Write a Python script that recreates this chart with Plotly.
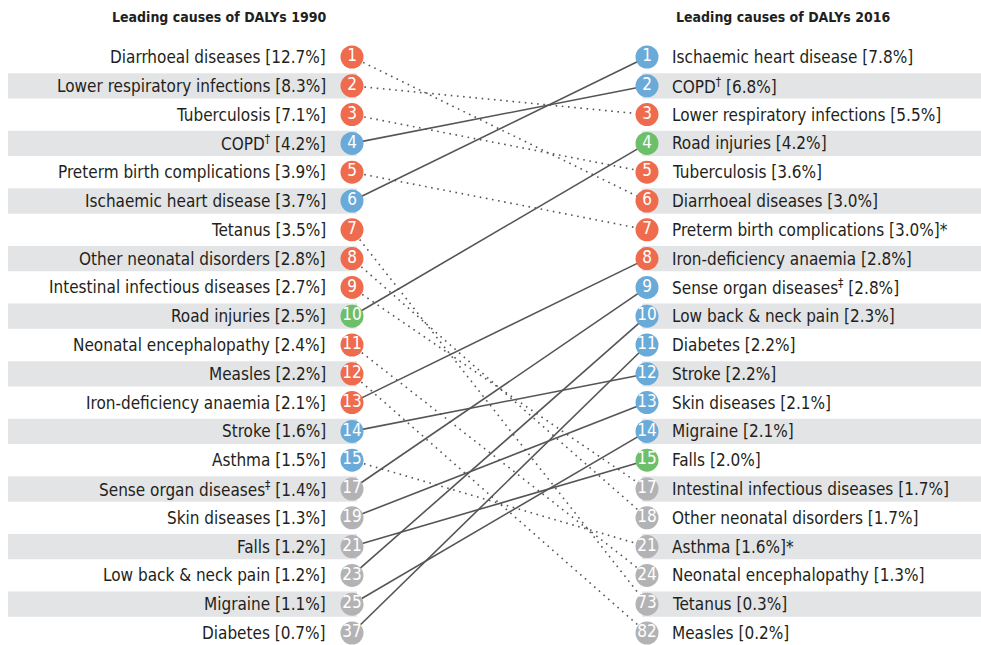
import plotly.graph_objects as go

# ---- data ----
causes_1990 = ["Diarrhoeal diseases", "Lower respiratory infections", "Tuberculosis", "COPD<sup>†</sup>",
               "Preterm birth complications", "Ischaemic heart disease", "Tetanus", "Other neonatal disorders",
               "Intestinal infectious diseases", "Road injuries", "Neonatal encephalopathy", "Measles",
               "Iron-deficiency anaemia", "Stroke", "Asthma", "Sense organ diseases<sup>‡</sup>", "Skin diseases",
               "Falls", "Low back & neck pain", "Migraine", "Diabetes"]
pct_1990 = ["12.7", "8.3", "7.1", "4.2", "3.9", "3.7", "3.5", "2.8", "2.7", "2.5", "2.4", "2.2", "2.1", "1.6",
            "1.5", "1.4", "1.3", "1.2", "1.2", "1.1", "0.7"]
rank_1990 = [1, 2, 3, 4, 5, 6, 7, 8, 9, 10, 11, 12, 13, 14, 15, 17, 19, 21, 23, 25, 37]
group_1990 = ["C", "C", "C", "N", "C", "N", "C", "C", "C", "I", "C", "C", "C", "N", "N",
              "N", "N", "I", "N", "N", "N"]

causes_2016 = ["Ischaemic heart disease", "COPD<sup>†</sup>", "Lower respiratory infections", "Road injuries",
               "Tuberculosis", "Diarrhoeal diseases", "Preterm birth complications", "Iron-deficiency anaemia",
               "Sense organ diseases<sup>‡</sup>", "Low back & neck pain", "Diabetes", "Stroke", "Skin diseases",
               "Migraine", "Falls", "Intestinal infectious diseases", "Other neonatal disorders", "Asthma",
               "Neonatal encephalopathy", "Tetanus", "Measles"]
pct_2016 = ["7.8", "6.8", "5.5", "4.2", "3.6", "3.0", "3.0", "2.8", "2.8", "2.3", "2.2", "2.2", "2.1", "2.1",
            "2.0", "1.7", "1.7", "1.6", "1.3", "0.3", "0.2"]
mark_2016 = ["", "", "", "", "", "", "*", "", "", "", "", "", "", "", "", "", "", "*", "", "", ""]
rank_2016 = [1, 2, 3, 4, 5, 6, 7, 8, 9, 10, 11, 12, 13, 14, 15, 17, 18, 21, 24, 73, 82]
group_2016 = ["N", "N", "C", "I", "C", "C", "C", "C", "N", "N", "N", "N", "N", "N", "I",
              "C", "C", "N", "C", "C", "C"]

title_1990 = "Leading causes of DALYs 1990"
title_2016 = "Leading causes of DALYs 2016"

# ---- styling ----
FONT = "DejaVu Sans Condensed, Liberation Sans Narrow, Arial Narrow, sans-serif"
TXT = "#231f20"
COL = {"C": "#ee6b4d", "N": "#6aaad8", "I": "#6dbf6a", "X": "#b3b3b5"}
BAND = "#e3e4e6"
LINE = "#555555"


def colour(rank, grp):
    return COL[grp] if rank <= 15 else COL["X"]


n = len(causes_1990)
rows = list(range(n))

fig = go.Figure()

# alternating bands
shapes = []
for i in rows:
    if i % 2 == 1:
        shapes.append(dict(type="rect", xref="paper", yref="y", x0=8 / 981, x1=357 / 981,
                           y0=i - 0.44, y1=i + 0.44, fillcolor=BAND, line_width=0, layer="below"))
        shapes.append(dict(type="rect", xref="paper", yref="y", x0=642 / 981, x1=1,
                           y0=i - 0.44, y1=i + 0.44, fillcolor=BAND, line_width=0, layer="below"))

# connecting lines
sx, sy, dx, dy = [], [], [], []
for i, c in enumerate(causes_1990):
    j = causes_2016.index(c)
    if j < i:
        sx += [0, 1, None]; sy += [i, j, None]
    else:
        dx += [0, 1, None]; dy += [i, j, None]
fig.add_trace(go.Scatter(x=sx, y=sy, mode="lines", line=dict(color=LINE, width=1.6),
                         hoverinfo="skip", showlegend=False))
fig.add_trace(go.Scatter(x=dx, y=dy, mode="lines", line=dict(color=LINE, width=1.6, dash="1.6px,4.6px"),
                         hoverinfo="skip", showlegend=False))

# circles
fig.add_trace(go.Scatter(
    x=[0] * n, y=rows, mode="markers+text",
    marker=dict(size=23, color=[colour(r, g) for r, g in zip(rank_1990, group_1990)], line_width=0),
    text=[str(r) for r in rank_1990], textposition="middle center",
    textfont=dict(family=FONT, size=17, color="white"), hoverinfo="skip", showlegend=False))
fig.add_trace(go.Scatter(
    x=[1] * n, y=rows, mode="markers+text",
    marker=dict(size=23, color=[colour(r, g) for r, g in zip(rank_2016, group_2016)], line_width=0),
    text=[str(r) for r in rank_2016], textposition="middle center",
    textfont=dict(family=FONT, size=17, color="white"), hoverinfo="skip", showlegend=False))

# labels
ann = []
for i in rows:
    ann.append(dict(x=0, y=i, xref="x", yref="y", xanchor="right", yanchor="middle", xshift=-24,
                    text=f"{causes_1990[i]} [{pct_1990[i]}%]", showarrow=False,
                    font=dict(family=FONT, size=17, color=TXT)))
    ann.append(dict(x=1, y=i, xref="x", yref="y", xanchor="left", yanchor="middle", xshift=23,
                    text=f"{causes_2016[i]} [{pct_2016[i]}%]{mark_2016[i]}", showarrow=False,
                    font=dict(family=FONT, size=17, color=TXT)))
ann.append(dict(x=0, y=-1.38, xref="x", yref="y", xanchor="right", yanchor="middle", xshift=-24,
                text=f"<b>{title_1990}</b>", showarrow=False, font=dict(family=FONT, size=14, color=TXT)))
ann.append(dict(x=1, y=-1.38, xref="x", yref="y", xanchor="left", yanchor="middle", xshift=27,
                text=f"<b>{title_2016}</b>", showarrow=False, font=dict(family=FONT, size=14, color=TXT)))

# axes mapped so that columns and rows land on the reference positions
px_per_x = 295.0
px_per_row = 28.8
fig.update_layout(
    width=981, height=645, margin=dict(l=0, r=0, t=0, b=0),
    plot_bgcolor="white", paper_bgcolor="white",
    xaxis=dict(range=[-352 / px_per_x, (981 - 352) / px_per_x], visible=False, fixedrange=True),
    yaxis=dict(range=[(645 - 57) / px_per_row, -57 / px_per_row], visible=False, fixedrange=True),
    shapes=shapes, annotations=ann,
)

fig.write_html("out.html", config={"displayModeBar": False},
               post_script="document.body.style.margin='0';document.body.style.overflow='hidden';")
